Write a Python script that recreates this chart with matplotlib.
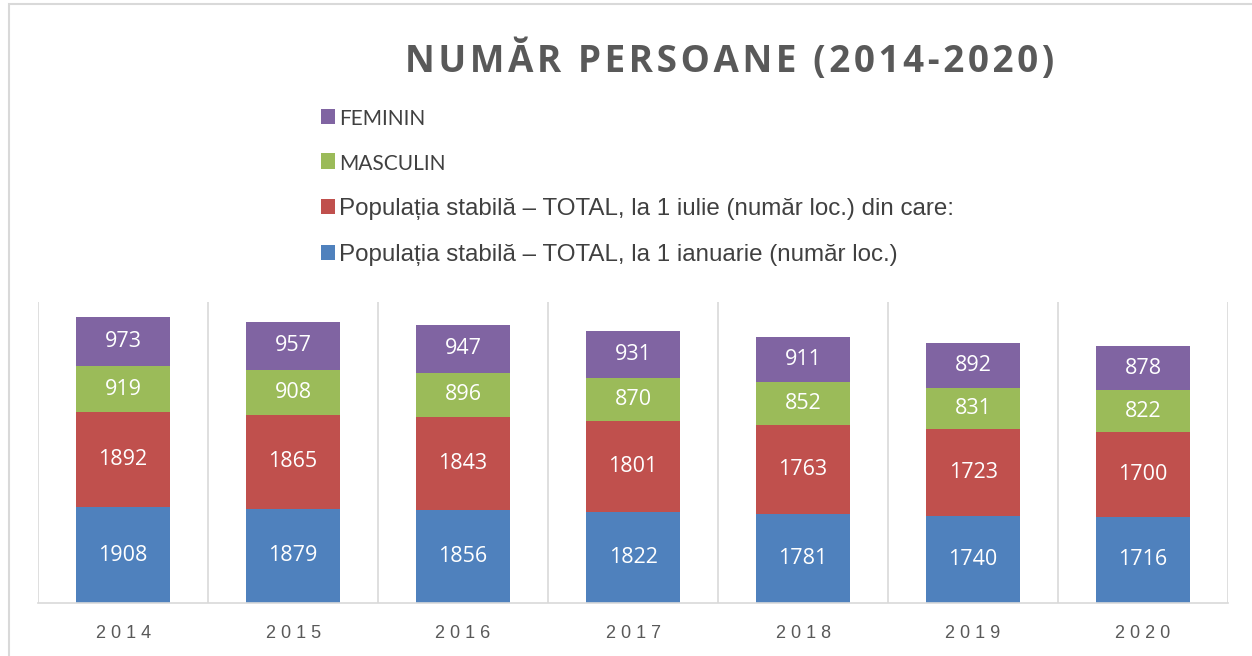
import numpy as np
import matplotlib.pyplot as plt
from matplotlib.patches import Rectangle

# Date
ani = ['2014', '2015', '2016', '2017', '2018', '2019', '2020']
total_ianuarie = [1908, 1879, 1856, 1822, 1781, 1740, 1716]
total_iulie = [1892, 1865, 1843, 1801, 1763, 1723, 1700]
masculin = [919, 908, 896, 870, 852, 831, 822]
feminin = [973, 957, 947, 931, 911, 892, 878]

serii = [
    ('Populația stabilă – TOTAL, la 1 ianuarie (număr loc.)', total_ianuarie, '#4f81bd'),
    ('Populația stabilă – TOTAL, la 1 iulie (număr loc.) din care:', total_iulie, '#c0504d'),
    ('MASCULIN', masculin, '#9bbb59'),
    ('FEMININ', feminin, '#8064a2'),
]

fig = plt.figure(figsize=(12.52, 6.56), dpi=100)
ax = fig.add_axes([0.0304, 0.0808, 0.9505, 0.4588])

x = np.arange(len(ani))
baza = np.zeros(len(ani))
handles = []
for nume, valori, culoare in serii:
    bare = ax.bar(x, valori, width=0.55, bottom=baza, color=culoare, label=nume)
    ax.bar_label(bare, labels=[str(v) for v in valori], label_type='center',
                 color='white', fontsize=15.5, family='Open Sans')
    handles.append(bare)
    baza += np.array(valori)

ax.set_xlim(-0.5, len(ani) - 0.5)
ax.set_ylim(0, 6000)

# linii verticale intre categorii
for b in np.arange(-0.5, len(ani), 1.0):
    ax.axvline(b, color='#d9d9d9', lw=1.2, zorder=0)

for s in ['top', 'left', 'right']:
    ax.spines[s].set_visible(False)
ax.spines['bottom'].set_color('#d9d9d9')
ax.spines['bottom'].set_linewidth(1.2)
ax.set_yticks([])
ax.set_xticks(x)
ax.set_xticklabels([' '.join(a) for a in ani], fontsize=13, color='#595959',
                   family='Liberation Sans')
ax.tick_params(axis='x', length=0, pad=16)

titlu = 'NUMĂR PERSOANE (2014-2020)'
fig.text(0.583, 0.908, '\u200a'.join(titlu),
         ha='center', va='center', fontsize=26.5, fontweight='bold',
         color='#595959', family=['Open Sans', 'DejaVu Sans'])

leg = fig.legend(handles=handles[::-1], labels=[s[0] for s in serii][::-1],
                 loc='upper left', bbox_to_anchor=(0.239, 0.867), frameon=False,
                 labelspacing=1.0, handlelength=0.6, handleheight=0.6,
                 handletextpad=0.15, prop={'family': 'Liberation Sans', 'size': 17.4})
for i, t in enumerate(leg.get_texts()):
    t.set_color('#404040')
    if i < 2:
        t.set_fontfamily('Lato')
        t.set_fontsize(15)

# chenarul graficului
fig.patches.append(Rectangle((9 / 1252, -0.1), 1.2, 1.1 - 4 / 656, transform=fig.transFigure,
                             fill=False, edgecolor='#d9d9d9', lw=1.5))

fig.savefig('out.png', dpi=100)
